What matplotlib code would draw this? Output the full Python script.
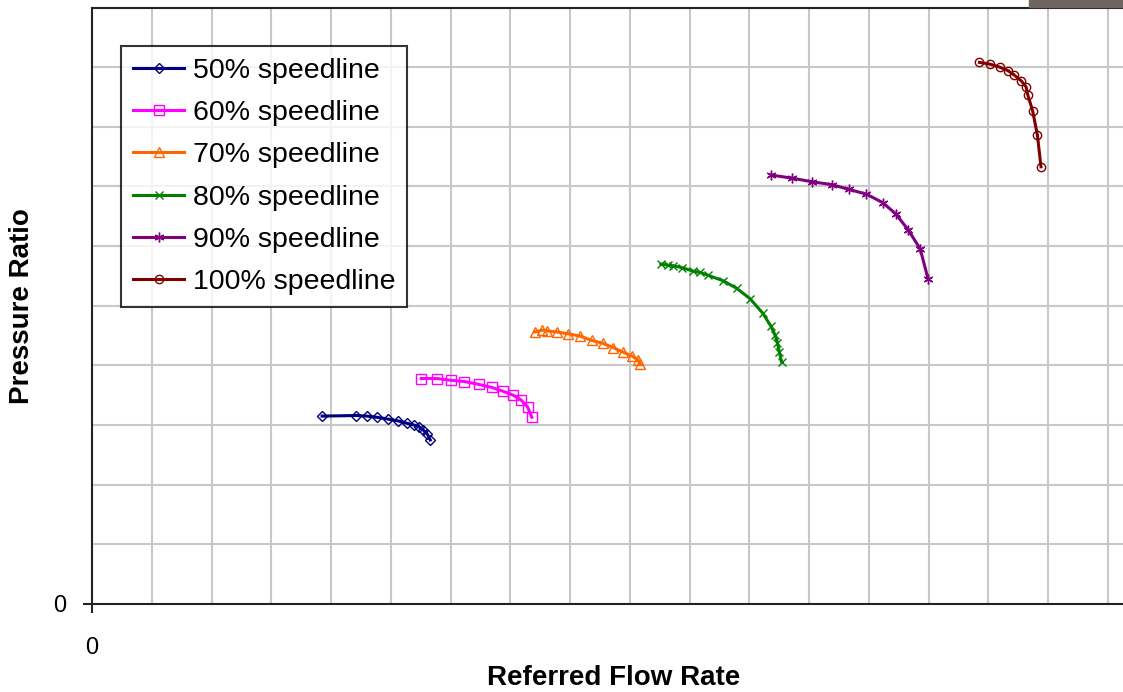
import matplotlib
matplotlib.use("Agg")
import matplotlib.pyplot as plt
from matplotlib.patches import Rectangle
import numpy as np

# speedline data (referred flow rate, pressure ratio) in chart units
flow_50 = [3.85, 4.42, 4.60, 4.77, 4.95, 5.12, 5.27, 5.39, 5.47, 5.54, 5.61, 5.66]
pr_50 = [3.15, 3.16, 3.15, 3.13, 3.10, 3.07, 3.03, 3.00, 2.97, 2.92, 2.85, 2.75]

flow_60 = [5.51, 5.77, 6.01, 6.23, 6.48, 6.69, 6.87, 7.05, 7.18, 7.29, 7.36]
pr_60 = [3.78, 3.78, 3.75, 3.73, 3.68, 3.63, 3.57, 3.50, 3.42, 3.30, 3.13]

flow_70 = [7.41, 7.53, 7.61, 7.78, 7.97, 8.17, 8.36, 8.55, 8.72, 8.89, 9.03, 9.14, 9.17]
pr_70 = [4.56, 4.59, 4.58, 4.56, 4.53, 4.49, 4.42, 4.37, 4.30, 4.22, 4.16, 4.09, 4.02]

flow_80 = [9.52, 9.64, 9.73, 9.87, 10.06, 10.17, 10.31, 10.56, 10.79, 11.01, 11.22,
           11.36, 11.43, 11.47, 11.50, 11.54]
pr_80 = [5.70, 5.68, 5.67, 5.64, 5.58, 5.56, 5.51, 5.42, 5.29, 5.12, 4.88,
         4.66, 4.51, 4.38, 4.23, 4.06]

flow_90 = [11.37, 11.71, 12.04, 12.38, 12.67, 12.96, 13.23, 13.45, 13.66, 13.86, 13.99]
pr_90 = [7.19, 7.14, 7.08, 7.03, 6.95, 6.87, 6.73, 6.54, 6.27, 5.95, 5.45]

flow_100 = [14.85, 15.03, 15.19, 15.33, 15.43, 15.55, 15.63, 15.66, 15.74, 15.82, 15.88]
pr_100 = [9.08, 9.05, 9.00, 8.94, 8.87, 8.77, 8.67, 8.53, 8.27, 7.86, 7.33]

labels = ["50% speedline", "60% speedline", "70% speedline",
          "80% speedline", "90% speedline", "100% speedline"]

plt.rcParams['font.family'] = ['Liberation Sans', 'DejaVu Sans']

W, H = 1123, 692
fig = plt.figure(figsize=(W / 100, H / 100), dpi=100)
fig.patch.set_facecolor('white')

# plot area (runs slightly off the right edge, as in the source)
left, right, top, bottom = 92, 1136, 7.5, 604
ax = fig.add_axes([left / W, (H - bottom) / H, (right - left) / W, (bottom - top) / H])

unit = 59.76
ax.set_xlim(0, (right - left) / unit)
ax.set_ylim(0, 10)

series = [
    (flow_50, pr_50, '#000080', dict(marker='D', ms=5.5)),
    (flow_60, pr_60, '#FF00FF', dict(marker='s', ms=6.5)),
    (flow_70, pr_70, '#FF6600', dict(marker='^', ms=7)),
    (flow_80, pr_80, '#008000', dict(marker='x', ms=5.5, mew=1)),
    (flow_90, pr_90, '#800080', dict(marker=(6, 2, 0), ms=7, mew=1)),
    (flow_100, pr_100, '#800000', dict(marker='o', ms=6)),
]
for (x, y, c, mk), lab in zip(series, labels):
    ax.plot(x, y, color=c, lw=2.2, mfc='none', mec=c, label=lab, **mk)

# grid from minor ticks, only "0" labelled
ax.set_xticks(np.arange(1, 18), minor=True)
ax.set_yticks(np.arange(1, 10), minor=True)
ax.set_xticks([0])
ax.set_yticks([0])
ax.grid(which='minor', color='#c8c8c8', lw=1.5)
ax.tick_params(which='minor', length=0)
ax.tick_params(which='major', length=6.5, width=1.5, color='#222222', labelsize=17)
ax.tick_params(axis='x', pad=17)
ax.tick_params(axis='y', pad=12)

for s in ['left', 'bottom', 'top']:
    ax.spines[s].set_linewidth(1.5)
    ax.spines[s].set_color('#222222')
ax.spines['right'].set_visible(False)

fig.text(614 / W, 1 - 678 / H, "Referred Flow Rate", fontsize=20, fontweight='bold',
         ha='center', va='center')
fig.text(22 / W, 1 - 306 / H, "Pressure Ratio", fontsize=20, fontweight='bold',
         ha='center', va='center', rotation=90)

leg = ax.legend(loc='upper left', bbox_to_anchor=((121 - left) / (right - left), (bottom - 46) / (bottom - top)),
                fontsize=20.5, frameon=True, fancybox=False, edgecolor='black',
                handlelength=1.8, handletextpad=0.3, labelspacing=0.57,
                borderpad=0.42, borderaxespad=0)
leg.get_frame().set_linewidth(1.5)

# dark block at the top right corner of the source image
fig.patches.append(Rectangle((1029 / W, 1 - 7 / H), 94 / W, 7 / H,
                             transform=fig.transFigure, color='#6e6560', zorder=5))

fig.savefig("out.png", dpi=100)
